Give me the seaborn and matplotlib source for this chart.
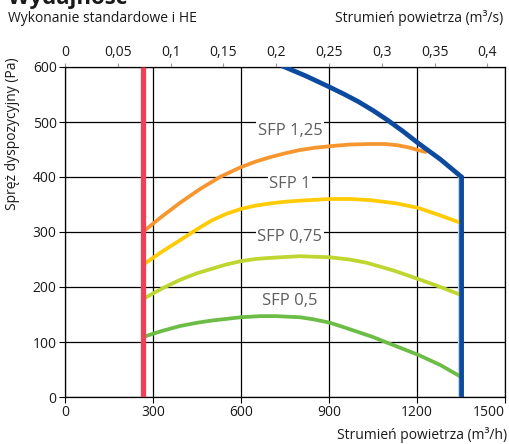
import matplotlib
matplotlib.use("Agg")
import matplotlib.pyplot as plt
import seaborn as sns
import pandas as pd

# ---- data ----
sfp125_x = [265, 330, 392, 460, 528, 600, 650, 699, 750, 800, 850, 903, 970, 1040, 1090, 1130, 1170, 1203, 1234]
sfp125_y = [300, 328, 353, 378, 400, 418, 428, 436, 443, 449, 453, 456, 459, 460, 460, 458, 454, 449, 445]

sfp1_x = [265, 330, 392, 450, 500, 550, 600, 650, 700, 750, 800, 903, 970, 1040, 1130, 1203, 1280, 1352]
sfp1_y = [240, 264, 285, 305, 321, 333, 342, 348, 352, 355, 357, 360, 360, 358, 352, 344, 330, 316]

sfp075_x = [265, 330, 392, 450, 500, 550, 600, 650, 700, 801, 903, 970, 1029, 1120, 1207, 1280, 1352]
sfp075_y = [178, 197, 213, 225, 233, 241, 247, 251, 253, 256, 254, 250, 244, 230, 214, 200, 185]

sfp05_x = [265, 330, 392, 450, 500, 550, 600, 665, 720, 760, 801, 850, 903, 950, 1000, 1050, 1097, 1150, 1207, 1280, 1352]
sfp05_y = [109, 120, 129, 135, 139, 142, 145, 147, 147, 146, 145, 141, 135, 127, 118, 109, 99, 88, 76, 58, 36]

max_x = [740, 780, 820, 860, 900, 950, 1000, 1050, 1098, 1150, 1203, 1280, 1352, 1352]
max_y = [602, 593, 584, 574, 564, 551, 537, 521, 504, 484, 462, 432, 400, 0]

min_x = [265, 265]
min_y = [0, 600]

labels = ["SFP 1,25", "SFP 1", "SFP 0,75", "SFP 0,5"]
label_x = [767, 767, 767, 767]
label_y = [484, 387, 291, 175]

x_ticks = [0, 300, 600, 900, 1200, 1500]
y_ticks = [0, 100, 200, 300, 400, 500, 600]
top_ticks = [0, 0.05, 0.1, 0.15, 0.2, 0.25, 0.3, 0.35, 0.4]
top_labels = ["0", "0,05", "0,1", "0,15", "0,2", "0,25", "0,3", "0,35", "0,4"]

# ---- style ----
sns.set_style("white")
plt.rcParams["font.family"] = ["Open Sans", "DejaVu Sans"]
plt.rcParams["font.size"] = 10

W, H = 509, 444
fig = plt.figure(figsize=(W / 100, H / 100), dpi=100)
ax = fig.add_axes([65 / W, 1 - 397 / H, (505 - 65) / W, (397 - 67) / H])

# grid
for xv in x_ticks:
    ax.axvline(xv, color="black", lw=0.9, zorder=1)
for yv in y_ticks:
    ax.axhline(yv, color="black", lw=0.9, zorder=1)


def draw(xs, ys, **kw):
    df = pd.DataFrame({"x": xs, "y": ys})
    sns.lineplot(data=df, x="x", y="y", ax=ax, sort=False, estimator=None, **kw)


curves = [
    (sfp125_x, sfp125_y, "#F7952E"),
    (sfp1_x, sfp1_y, "#FFCB05"),
    (sfp075_x, sfp075_y, "#BED62F"),
    (sfp05_x, sfp05_y, "#6BBD45"),
]
for xs, ys, col in curves:
    draw(xs, ys, color=col, lw=2.7, zorder=3, solid_capstyle="butt",
         solid_joinstyle="round")

# min line (red)
draw(min_x, min_y, color="#EE4157", lw=3.8, zorder=4, solid_capstyle="butt")

# light shade beside blue vertical
draw([max_x[-2] - 8.5, max_x[-1] - 8.5], [max_y[-2], max_y[-1]],
     color="#C9D4E4", lw=1.6, zorder=2)
# max line (blue)
draw(max_x, max_y, color="#0B4A9E", lw=3.4, zorder=5, solid_joinstyle="miter",
     solid_capstyle="butt")

for t, lx, ly in zip(labels, label_x, label_y):
    ax.text(lx, ly, t, ha="center", va="center", fontsize=12, color="#5E5E5E",
            zorder=6, bbox=dict(facecolor="white", edgecolor="none", pad=1.0))

ax.set_xlim(0, 1500)
ax.set_ylim(0, 600)
ax.set_xticks(x_ticks)
ax.set_yticks(y_ticks)
ax.set_xticklabels([str(v) for v in x_ticks])
ax.set_xlabel("")
ax.set_ylabel("")
ax.tick_params(axis="both", direction="out", length=4, width=0.8, color="black",
               labelsize=10, pad=2, bottom=True, left=True, labelcolor="#1a1a1a")
for s in ax.spines.values():
    s.set_color("black")
    s.set_linewidth(0.9)
lbls = ax.get_xticklabels()
lbls[-1].set_horizontalalignment("right")

sec = ax.secondary_xaxis("top", functions=(lambda x: x / 3600.0, lambda x: x * 3600.0))
sec.set_xticks(top_ticks)
sec.set_xticklabels(top_labels)
sec.tick_params(direction="out", length=3, width=0.8, color="#999999", labelsize=10,
                pad=2, labelcolor="#1a1a1a")
sec.spines["top"].set_visible(False)

# texts
fig.text(8 / W, 1 - 4 / H, "Wydajność", fontsize=16, fontweight="bold",
         ha="left", va="baseline", color="#1a1a1a")
fig.text(8 / W, 1 - 22 / H, "Wykonanie standardowe i HE", fontsize=10,
         ha="left", va="baseline", color="#1a1a1a")
fig.text(503 / W, 1 - 22 / H, "Strumień powietrza (m³/s)", fontsize=10,
         ha="right", va="baseline", color="#1a1a1a")
fig.text(507 / W, 1 - 439 / H, "Strumień powietrza (m³/h)", fontsize=10,
         ha="right", va="baseline", color="#1a1a1a")
fig.text(13 / W, 1 - 57 / H, "Spręż dyspozycyjny (Pa)", fontsize=10, rotation=90,
         ha="center", va="top", color="#1a1a1a")

fig.savefig("out.png", dpi=100)
